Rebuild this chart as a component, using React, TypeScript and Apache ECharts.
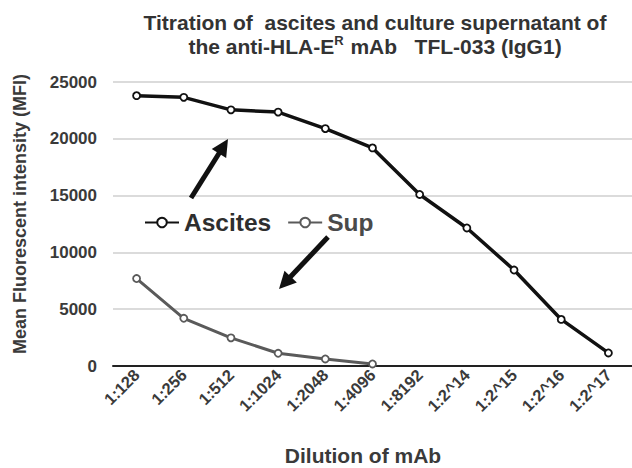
import React, { useEffect, useRef } from "react";
import * as echarts from "echarts";

const categories = ["1:128", "1:256", "1:512", "1:1024", "1:2048", "1:4096", "1:8192", "1:2^14", "1:2^15", "1:2^16", "1:2^17"];
const ascites = [23800, 23650, 22550, 22350, 20900, 19200, 15100, 12150, 8450, 4100, 1150];
const sup = [7700, 4200, 2480, 1120, 620, 180];
const yTicks = { min: 0, max: 25000, interval: 5000 };

const FONT = "'Liberation Sans', Arial, sans-serif";
const TEXT = "#3a3a3a";

function arrow(x1: number, y1: number, x2: number, y2: number) {
  const dx = x2 - x1, dy = y2 - y1;
  const len = Math.sqrt(dx * dx + dy * dy);
  const ux = dx / len, uy = dy / len;
  const hl = 17, hw = 8.5;
  const bx = x2 - ux * hl, by = y2 - uy * hl;
  const px = -uy, py = ux;
  return [
    {
      type: "line",
      z: 100,
      shape: { x1, y1, x2: bx + ux * 2, y2: by + uy * 2 },
      style: { stroke: "#111", lineWidth: 5, fill: null },
    },
    {
      type: "polygon",
      z: 100,
      shape: { points: [[x2, y2], [bx + px * hw, by + py * hw], [bx - px * hw, by - py * hw]] },
      style: { fill: "#111" },
    },
  ];
}

export default function App() {
  const ref = useRef<HTMLDivElement>(null);
  useEffect(() => {
    if (!ref.current) return;
    const chart = echarts.init(ref.current, null, { renderer: "svg" });
    chart.setOption({
      animation: false,
      backgroundColor: "#ffffff",
      grid: { left: 113, right: 0, top: 82, bottom: 102, containLabel: false },
      legend: {
        left: 139,
        top: 205,
        itemWidth: 34,
        itemHeight: 12,
        itemGap: 16,
        textStyle: { fontFamily: FONT, fontWeight: "bold", fontSize: 24.5, color: TEXT },
        data: [
          { name: "Ascites", textStyle: { color: "#2e2e2e" } },
          { name: "Sup", textStyle: { color: "#4a4a4a" } },
        ],
      },
      xAxis: {
        type: "category",
        data: categories,
        boundaryGap: true,
        axisLine: { lineStyle: { color: "#222", width: 2 } },
        axisTick: { show: false },
        axisLabel: {
          rotate: 45,
          interval: 0,
          margin: 6,
          fontFamily: FONT,
          fontWeight: "bold",
          fontSize: 16.5,
          color: TEXT,
        },
      },
      yAxis: {
        type: "value",
        min: yTicks.min,
        max: yTicks.max,
        interval: yTicks.interval,
        axisLine: { show: false },
        axisTick: { show: false },
        splitLine: { lineStyle: { color: "#cfcfcf", width: 1.5 } },
        axisLabel: {
          margin: 16,
          fontFamily: FONT,
          fontWeight: "bold",
          fontSize: 17,
          color: TEXT,
          formatter: (v: number) => String(v),
        },
      },
      series: [
        {
          name: "Ascites",
          type: "line",
          data: ascites,
          symbol: "circle",
          symbolSize: 7,
          itemStyle: { color: "#ffffff", borderColor: "#111", borderWidth: 1.8 },
          lineStyle: { color: "#111", width: 3.5 },
          z: 3,
        },
        {
          name: "Sup",
          type: "line",
          data: sup,
          symbol: "circle",
          symbolSize: 7,
          itemStyle: { color: "#ffffff", borderColor: "#5a5a5a", borderWidth: 1.8 },
          lineStyle: { color: "#5a5a5a", width: 3 },
          z: 2,
        },
      ],
      graphic: [
        {
          type: "text",
          x: 375,
          y: 10,
          style: {
            text: "Titration of  ascites and culture supernatant of\nthe anti-HLA-E{sup|R} mAb   TFL-033 (IgG1)",
            align: "center",
            fontFamily: FONT,
            fontWeight: "bold",
            fontSize: 21,
            lineHeight: 24,
            fill: "#333",
            rich: {
              sup: { fontSize: 13, fontWeight: "bold", fontFamily: FONT, verticalAlign: "top", padding: [0, 1, 8, 0], fill: "#333" },
            },
          },
        },
        {
          type: "text",
          x: 20,
          y: 214,
          rotation: Math.PI / 2,
          style: {
            text: "Mean Fluorescent intensity (MFI)",
            align: "center",
            verticalAlign: "middle",
            fontFamily: FONT,
            fontWeight: "bold",
            fontSize: 18,
            fill: TEXT,
          },
        },
        {
          type: "text",
          x: 363,
          y: 455,
          style: {
            text: "Dilution of mAb",
            align: "center",
            verticalAlign: "middle",
            fontFamily: FONT,
            fontWeight: "bold",
            fontSize: 21,
            fill: TEXT,
          },
        },
        ...arrow(191, 198, 228, 139),
        ...arrow(328, 237, 279, 289),
      ],
    });
    return () => chart.dispose();
  }, []);
  return <div ref={ref} style={{ width: 632, height: 468, position: "absolute", left: 0, top: 0 }} />;
}
